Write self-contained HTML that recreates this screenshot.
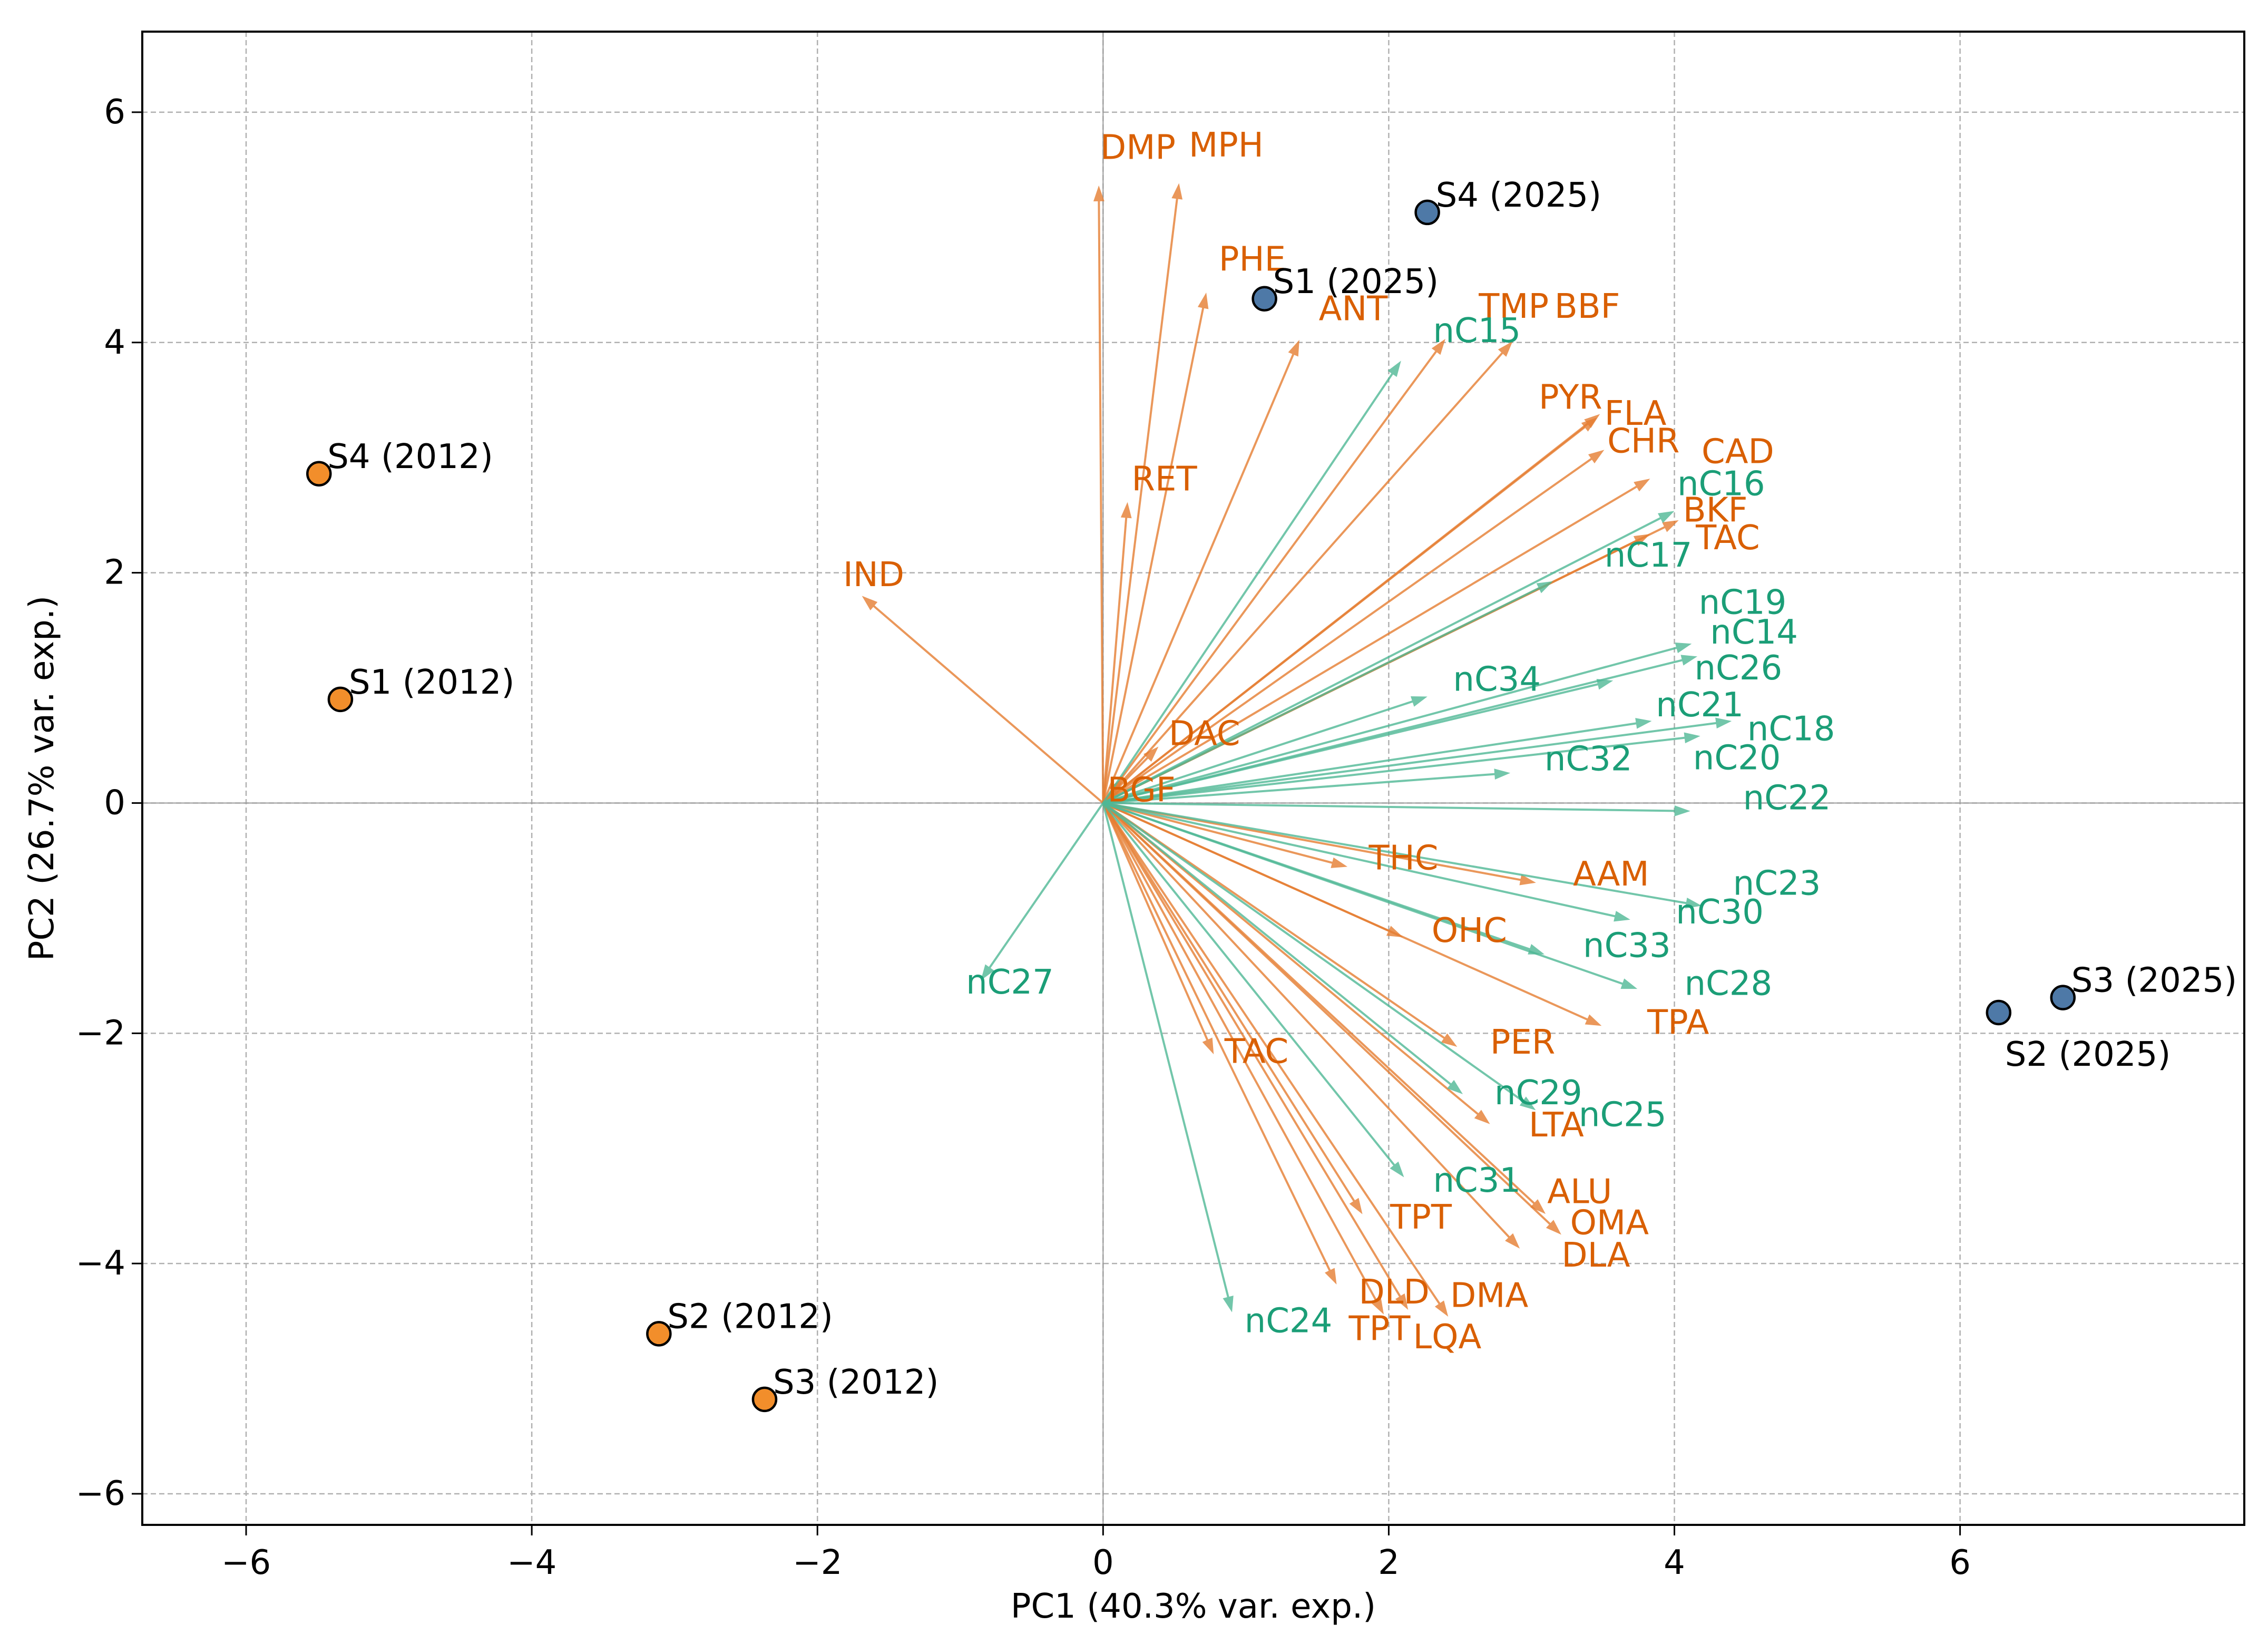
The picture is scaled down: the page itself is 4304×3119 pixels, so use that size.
<!DOCTYPE html>
<html><head><meta charset="utf-8"><style>
html,body{margin:0;padding:0;background:#fff;}
svg{display:block;font-family:"DejaVu Sans","Liberation Sans",sans-serif;}
</style></head><body>
<svg id="chart" width="4304" height="3119" viewBox="0 0 4304 3119" xmlns="http://www.w3.org/2000/svg">
<rect x="0" y="0" width="4304" height="3119" fill="#fff"/>
<g id="grid"></g>
<g id="zero"></g>
<g id="vecs"></g>
<g id="pts"></g>
<g id="axes"></g>
</svg>
<script>
// ---- data ----
const xTicks = [-6, -4, -2, 0, 2, 4, 6];
const yTicks = [-6, -4, -2, 0, 2, 4, 6];
const xDomain = [-6.727, 7.99];
const yDomain = [-6.27, 6.70];

const pahNames = ["DMP","MPH","PHE","ANT","TMP","BBF","PYR","FLA","CHR","CAD","BKF","TAC","RET","IND","DAC","BGF","THC","AAM","OHC","TPA","PER","TAC","LTA","ALU","OMA","DLA","TPT","DLD","DMA","TPT","LQA"];
const pahX = [-0.03,0.53,0.72,1.37,2.39,2.86,3.45,3.47,3.50,3.82,4.02,3.82,0.17,-1.68,0.38,0.13,1.70,3.02,2.09,3.48,2.47,0.77,2.70,3.09,3.20,2.91,1.81,1.96,2.41,1.63,2.13];
const pahY = [5.35,5.37,4.42,4.01,4.02,4.00,3.34,3.37,3.06,2.81,2.45,2.33,2.60,1.79,0.48,0.20,-0.55,-0.69,-1.16,-1.93,-2.11,-2.17,-2.78,-3.56,-3.74,-3.86,-3.56,-4.43,-4.45,-4.17,-4.39];
const pahLabelX = [-0.02,0.60,0.81,1.51,2.63,3.16,3.05,3.51,3.53,4.19,4.06,4.15,0.20,-1.82,0.46,0.03,1.86,3.29,2.30,3.81,2.71,0.85,2.98,3.11,3.27,3.21,2.01,1.79,2.43,1.72,2.17];
const pahLabelY = [5.69,5.71,4.72,4.29,4.31,4.31,3.52,3.38,3.14,3.05,2.54,2.30,2.81,1.98,0.60,0.11,-0.48,-0.62,-1.11,-1.91,-2.08,-2.16,-2.80,-3.38,-3.65,-3.93,-3.60,-4.25,-4.28,-4.57,-4.64];

const alkNames = ["nC15","nC16","nC17","nC19","nC14","nC26","nC34","nC21","nC18","nC20","nC32","nC22","nC23","nC30","nC33","nC28","nC27","nC29","nC25","nC31","nC24"];
const alkX = [2.08,3.99,3.14,4.11,4.15,3.56,2.26,3.83,4.39,4.17,2.84,4.10,4.18,3.68,3.08,3.73,-0.85,2.51,3.02,2.10,0.90];
const alkY = [3.83,2.53,1.92,1.38,1.27,1.06,0.92,0.71,0.71,0.58,0.26,-0.07,-0.89,-1.01,-1.31,-1.61,-1.53,-2.52,-2.66,-3.24,-4.41];
const alkLabelX = [2.31,4.02,3.51,4.17,4.25,4.14,2.45,3.87,4.51,4.13,3.09,4.48,4.41,4.01,3.36,4.07,-0.96,2.74,3.33,2.31,0.99];
const alkLabelY = [4.10,2.77,2.15,1.74,1.48,1.17,1.07,0.85,0.64,0.39,0.38,0.04,-0.70,-0.95,-1.24,-1.57,-1.56,-2.52,-2.71,-3.28,-4.50];

const sampleNames = ["S4 (2012)","S1 (2012)","S2 (2012)","S3 (2012)","S1 (2025)","S4 (2025)","S3 (2025)","S2 (2025)"];
const sampleX = [-5.49,-5.34,-3.11,-2.37,1.13,2.27,6.72,6.27];
const sampleY = [2.86,0.90,-4.61,-5.18,4.38,5.13,-1.69,-1.82];
const sampleYear = [2012,2012,2012,2012,2025,2025,2025,2025];
const sampleLabelBelow = [false,false,false,false,false,false,false,true];

// ---- layout ----
const FS = 64;
const L=270, R=4259, T=60, B=2893;
const sx = v => L + (v - xDomain[0]) / (xDomain[1]-xDomain[0]) * (R-L);
const sy = v => B - (v - yDomain[0]) / (yDomain[1]-yDomain[0]) * (B-T);
const NS="http://www.w3.org/2000/svg";
function mk(tag, attrs, parent){const e=document.createElementNS(NS,tag);for(const k in attrs)e.setAttribute(k,attrs[k]);parent.appendChild(e);return e;}

const grid=document.getElementById('grid');
xTicks.forEach(t=>{
  const l=mk('line',{x1:sx(t),x2:sx(t),y1:T,y2:B,stroke:'#b0b0b0','stroke-width':2.5,'stroke-dasharray':'10,6'},grid);
  
  
});
yTicks.forEach(t=>{
  const l=mk('line',{x1:L,x2:R,y1:sy(t),y2:sy(t),stroke:'#b0b0b0','stroke-width':2.5,'stroke-dasharray':'10,6'},grid);
  
  
});
const zero=document.getElementById('zero');
const zx=mk('line',{x1:sx(0),x2:sx(0),y1:T,y2:B,stroke:'#999','stroke-width':2},zero);


const zy=mk('line',{x1:L,x2:R,y1:sy(0),y2:sy(0),stroke:'#999','stroke-width':2},zero);



const vecs=document.getElementById('vecs');
function arrow(x,y,color,name){
  const x0=sx(0),y0=sy(0),x1=sx(x),y1=sy(y);
  const g=mk('g',{opacity:0.8},vecs);
  
  
  const dx=x1-x0,dy=y1-y0,len=Math.hypot(dx,dy),ux=dx/len,uy=dy/len;
  const hl=26,hw=9;
  const bx=x1-ux*hl,by=y1-uy*hl;
  mk('line',{x1:x0,y1:y0,x2:bx,y2:by,stroke:color,'stroke-width':4},g);
  mk('polygon',{points:`${x1},${y1} ${bx-uy*hw},${by+ux*hw} ${bx+uy*hw},${by-ux*hw}`,fill:color,stroke:color,'stroke-width':2},g);
}
function vlabel(x,y,text,color){
  const t=mk('text',{x:sx(x),y:sy(y),fill:color,'font-size':FS,'dominant-baseline':'central'},vecs);
  t.textContent=text;
  
  
}
pahNames.forEach((n,i)=>arrow(pahX[i],pahY[i],'#e67e32','pah-vector-'+n.toLowerCase()));
alkNames.forEach((n,i)=>arrow(alkX[i],alkY[i],'#4fb896','alkane-vector-'+n.toLowerCase()));
pahNames.forEach((n,i)=>vlabel(pahLabelX[i],pahLabelY[i],n,'#d95f02'));
alkNames.forEach((n,i)=>vlabel(alkLabelX[i],alkLabelY[i],n,'#1b9e77'));

const pts=document.getElementById('pts');
sampleNames.forEach((n,i)=>{
  const c=mk('circle',{cx:sx(sampleX[i]),cy:sy(sampleY[i]),r:22,fill:sampleYear[i]===2012?'#f28e2b':'#4e79a7',stroke:'#000','stroke-width':4.5},pts);
  
  
  const below=sampleLabelBelow[i];
  const t=mk('text',{x:sx(sampleX[i])+(below?12:16),y:sy(sampleY[i])+(below?80:-32),fill:'#000','font-size':FS,'dominant-baseline':'central'},pts);
  t.textContent=n;
  
  
});

const axes=document.getElementById('axes');
const frame=mk('rect',{x:L,y:T,width:R-L,height:B-T,fill:'none',stroke:'#000','stroke-width':4},axes);


xTicks.forEach(t=>{
  mk('line',{x1:sx(t),x2:sx(t),y1:B,y2:B+20,stroke:'#000','stroke-width':3},axes);
  const tx=mk('text',{x:sx(t),y:2965,'font-size':FS,'text-anchor':'middle','dominant-baseline':'central',fill:'#000'},axes);
  tx.textContent=t<0?'\u2212'+Math.abs(t):String(t);
  
  
});
yTicks.forEach(t=>{
  mk('line',{x1:L-20,x2:L,y1:sy(t),y2:sy(t),stroke:'#000','stroke-width':3},axes);
  const ty=mk('text',{x:L-32,y:sy(t),'font-size':FS,'text-anchor':'end','dominant-baseline':'central',fill:'#000'},axes);
  ty.textContent=t<0?'\u2212'+Math.abs(t):String(t);
  
  
});
const xt=mk('text',{x:(L+R)/2,y:3048,'font-size':FS,'text-anchor':'middle','dominant-baseline':'central',fill:'#000'},axes);
xt.textContent='PC1 (40.3% var. exp.)';


const yt=mk('text',{x:0,y:0,'font-size':FS,'text-anchor':'middle','dominant-baseline':'central',fill:'#000',transform:`translate(80,${(T+B)/2}) rotate(-90)`},axes);
yt.textContent='PC2 (26.7% var. exp.)';


</script>
</body></html>
